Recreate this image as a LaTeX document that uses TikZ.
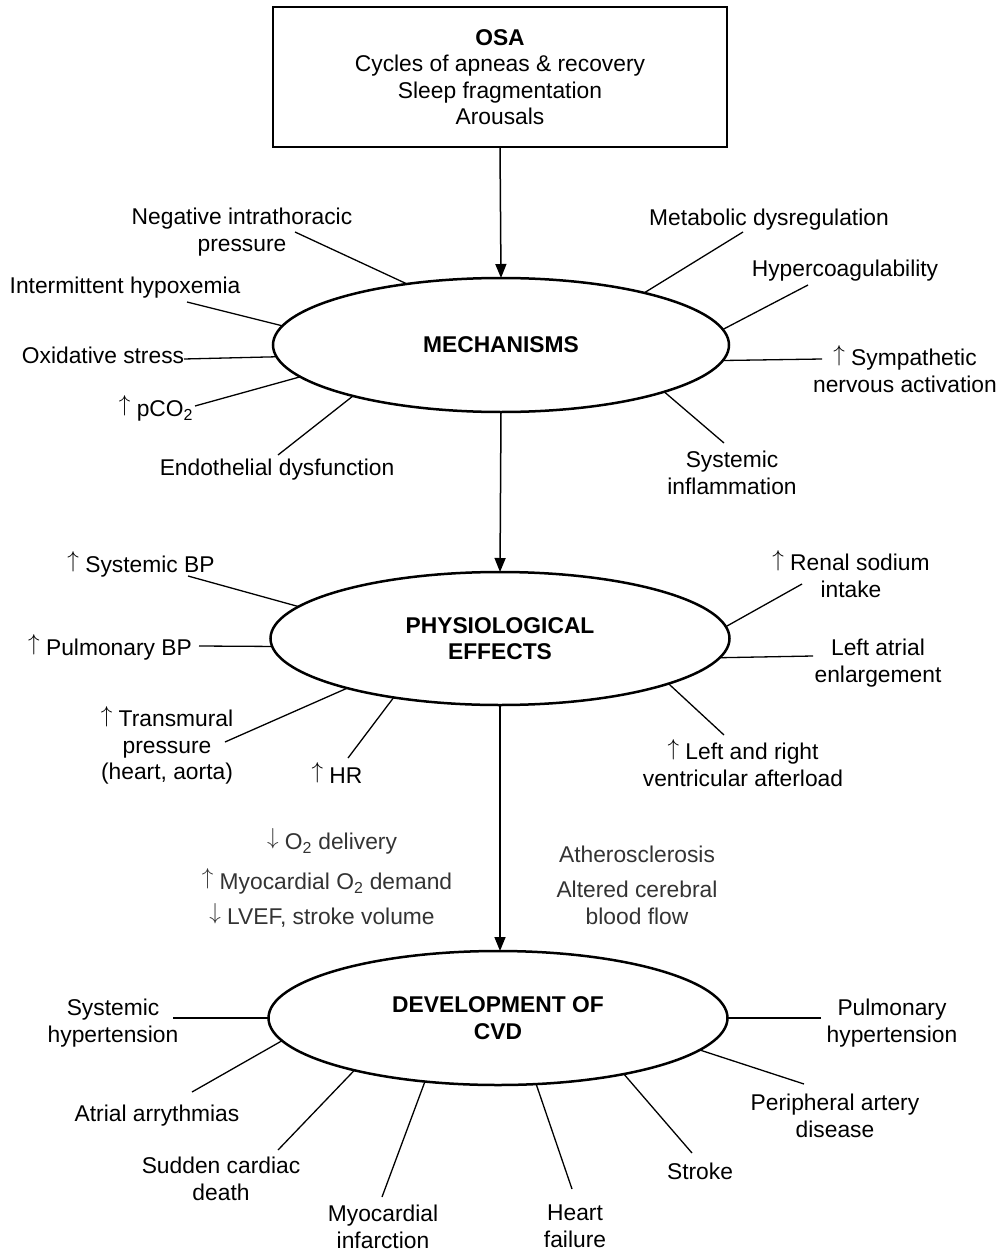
\documentclass[tikz,border=0pt]{standalone}
\usepackage{graphicx}
\usepackage{fontspec}
\setmainfont{Liberation Sans}
\usetikzlibrary{shapes.geometric,arrows.meta}
\newcommand\uparr{\resizebox{!}{0.9em}{\raisebox{\depth}{$\uparrow$}}}
\newcommand\dnarr{\resizebox{!}{0.9em}{\raisebox{\depth}{$\downarrow$}}}
\begin{document}
\begin{tikzpicture}[x=1pt,y=-1pt,
  every node/.style={font=\fontsize{22.8}{26.5}\selectfont, inner sep=0pt, outer sep=0pt, align=center},
  lbl/.style={yshift=-2.3pt, execute at begin node={\vphantom{Ah}}, execute at end node={\vphantom{gp}}},
  mid/.style={lbl, text=black!80},
  ell/.style={ellipse, draw, line width=2.5pt, minimum width=456pt, minimum height=134pt, font=\fontsize{22.8}{26.5}\selectfont\bfseries},
  spoke/.style={line width=1.3pt},
  arr/.style={line width=1.5pt, -{Triangle[length=14pt,width=11pt]}}
]
\useasboundingbox (0,0) rectangle (1005,1252);

% top box
\node[draw, line width=2.7pt, minimum width=454pt, minimum height=140pt] (osa) at (500,77)
  {\textbf{OSA}\\Cycles of apneas \& recovery\\Sleep fragmentation\\Arousals};

% ellipses
\node[ell] (mech) at (501,345) {MECHANISMS};
\node[ell, minimum width=459pt, minimum height=133pt] (phys) at (500,638.5) {PHYSIOLOGICAL\\EFFECTS};
\node[ell, minimum width=459pt] (cvd) at (498,1018) {DEVELOPMENT OF\\CVD};

% main arrows
\draw[arr] (osa.south) -- (mech.north);
\draw[arr] (mech.south) -- (phys.north);
\draw[arr] (phys.south) -- (phys.south |- cvd.north);

% ---- mechanisms
\node[lbl] (t-neg) at (242,230) {Negative intrathoracic\\pressure};
\node[lbl] (t-hyp) at (125,285) {Intermittent hypoxemia};
\node[lbl] (t-oxi) at (103,355) {Oxidative stress};
\node[lbl] (t-pco) at (156,406) {\uparr{} pCO\textsubscript{2}};
\node[lbl] (t-end) at (277,467) {Endothelial dysfunction};
\node[lbl] (t-met) at (769,217) {Metabolic dysregulation};
\node[lbl] (t-coa) at (845,268) {Hypercoagulability};
\node[lbl] (t-sym) at (905,369) {\uparr{} Sympathetic\\nervous activation};
\node[lbl] (t-inf) at (732,473) {Systemic\\inflammation};

\coordinate (c-neg) at (295,232);
\coordinate (c-hyp) at (187,302);
\coordinate (c-oxi) at (184,359);
\coordinate (c-pco) at (195,406);
\coordinate (c-end) at (278,455);
\coordinate (c-met) at (743,232);
\coordinate (c-coa) at (808,285);
\coordinate (c-sym) at (822,359);
\coordinate (c-inf) at (724,443);

\draw[spoke] (c-neg) -- (mech.147.7);
\draw[spoke] (c-hyp) -- (mech.175.9);
\draw[spoke] (c-oxi) -- (mech.183.6);
\draw[spoke] (c-pco) -- (mech.189);
\draw[spoke] (c-end) -- (mech.199.2);
\draw[spoke] (c-met) -- (mech.20.2);
\draw[spoke] (c-coa) -- (mech.4.9);
\draw[spoke] (c-sym) -- (mech.356.5);
\draw[spoke] (c-inf) -- (mech.344.3);

% ---- physiological effects
\node[lbl] (t-sbp) at (141,562) {\uparr{} Systemic BP};
\node[lbl] (t-pbp) at (110,645) {\uparr{} Pulmonary BP};
\node[lbl] (t-tra) at (167,743) {\uparr{} Transmural\\pressure\\(heart, aorta)};
\node[lbl] (t-hr) at (337,773) {\uparr{} HR};
\node[lbl] (t-ren) at (851,574) {\uparr{} Renal sodium\\intake};
\node[lbl] (t-lae) at (878,661) {Left atrial\\enlargement};
\node[lbl] (t-ven) at (743,763) {\uparr{} Left and right\\ventricular afterload};

\coordinate (c-sbp) at (188,576);
\coordinate (c-pbp) at (199,646);
\coordinate (c-tra) at (225,742);
\coordinate (c-hr) at (348,758);
\coordinate (c-ren) at (802,584);
\coordinate (c-lae) at (813,656);
\coordinate (c-ven) at (724,735);

\draw[spoke] (c-sbp) -- (phys.171.8);
\draw[spoke] (c-pbp) -- (phys.182);
\draw[spoke] (c-tra) -- (phys.198.8);
\draw[spoke] (c-hr) -- (phys.209.5);
\draw[spoke] (c-ren) -- (phys.3.8);
\draw[spoke] (c-lae) -- (phys.355.4);
\draw[spoke] (c-ven) -- (phys.345.4);

% ---- middle texts
\node[mid] (m-o2) at (332,839) {\dnarr{} O\textsubscript{2} delivery};
\node[mid] (m-myo) at (327,879) {\uparr{} Myocardial O\textsubscript{2} demand};
\node[mid] (m-lv) at (322,914) {\dnarr{} LVEF, stroke volume};
\node[mid] (m-ath) at (637,854) {Atherosclerosis};
\node[mid] (m-cer) at (637,903) {Altered cerebral\\blood flow};

% ---- CVD
\node[lbl] (t-shy) at (113,1021) {Systemic\\hypertension};
\node[lbl] (t-atr) at (157,1113) {Atrial arrythmias};
\node[lbl] (t-scd) at (221,1179) {Sudden cardiac\\death};
\node[lbl] (t-mi) at (383,1227) {Myocardial\\infarction};
\node[lbl] (t-hf) at (575,1226) {Heart\\failure};
\node[lbl] (t-str) at (700,1171) {Stroke};
\node[lbl] (t-pad) at (835,1116) {Peripheral artery\\disease};
\node[lbl] (t-phy) at (892,1021) {Pulmonary\\hypertension};

\coordinate (c-shy) at (173,1018);
\coordinate (c-atr) at (192,1092);
\coordinate (c-scd) at (278,1150);
\coordinate (c-mi) at (382,1197);
\coordinate (c-hf) at (572,1189);
\coordinate (c-str) at (692,1153);
\coordinate (c-pad) at (804,1084);
\coordinate (c-phy) at (821,1018);

\draw[spoke] (c-shy) -- (cvd.180);
\draw[spoke] (c-atr) -- (cvd.186.3);
\draw[spoke] (c-scd) -- (cvd.200.4);
\draw[spoke] (c-mi) -- (cvd.221.7);
\draw[spoke] (c-hf) -- (cvd.300.6);
\draw[spoke] (c-str) -- (cvd.336);
\draw[spoke] (c-pad) -- (cvd.351.3);
\draw[spoke] (c-phy) -- (cvd.0);
\end{tikzpicture}
\end{document}
